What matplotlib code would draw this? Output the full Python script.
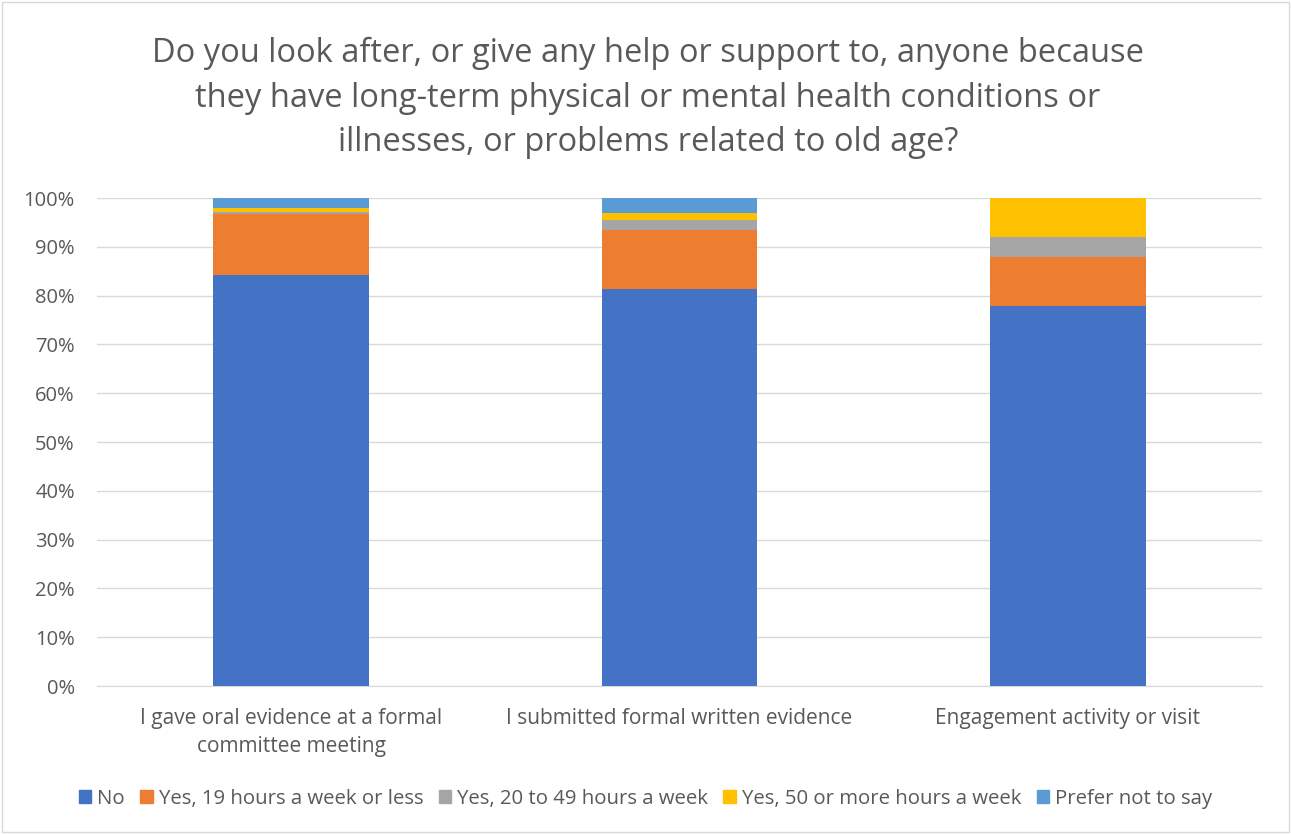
import matplotlib
matplotlib.use("Agg")
import matplotlib.pyplot as plt
import matplotlib.patches as mpatches
import numpy as np

plt.rcParams["font.family"] = ["Open Sans", "DejaVu Sans"]

# Data (percentages)
categories = [
    "I gave oral evidence at a formal\ncommittee meeting",
    "I submitted formal written evidence",
    "Engagement activity or visit",
]
series_names = [
    "No",
    "Yes, 19 hours a week or less",
    "Yes, 20 to 49 hours a week",
    "Yes, 50 or more hours a week",
    "Prefer not to say",
]
no_vals = [84.2, 81.4, 77.9]
yes_19 = [12.5, 12.0, 10.1]
yes_20_49 = [0.4, 2.1, 4.1]
yes_50 = [0.8, 1.4, 7.9]
prefer_not = [2.1, 3.1, 0.0]

colors = ["#4472C4", "#ED7D31", "#A5A5A5", "#FFC000", "#5B9BD5"]
TEXT = "#595959"

fig = plt.figure(figsize=(12.91, 8.34), dpi=100)
ax = fig.add_axes([97 / 1291, 1 - 686 / 834, (1262 - 97) / 1291, (686 - 198) / 834])

# chart border
fig.patches.append(mpatches.Rectangle(
    (2 / 1291, 2 / 834), 1287 / 1291, 830 / 834,
    transform=fig.transFigure, fill=False, edgecolor="#D9D9D9", linewidth=1.0,
))

x = np.arange(len(categories))
bottom = np.zeros(len(categories))
for name, vals, c in zip(series_names,
                         [no_vals, yes_19, yes_20_49, yes_50, prefer_not],
                         colors):
    ax.bar(x, vals, bottom=bottom, width=0.40, color=c, label=name, zorder=3)
    bottom += np.array(vals)

ax.set_xlim(-0.5, 2.5)
ax.set_ylim(0, 100)
ax.set_yticks(np.arange(0, 101, 10))
ax.set_yticklabels([f"{v}%" for v in range(0, 101, 10)])
ax.set_xticks(x)
ax.set_xticklabels(categories, linespacing=1.4)
ax.grid(axis="y", color="#D9D9D9", linewidth=1.0, zorder=0)
for s in ["left", "right", "top"]:
    ax.spines[s].set_visible(False)
ax.spines["bottom"].set_color("#D9D9D9")
ax.tick_params(axis="both", length=0, colors=TEXT)
ax.tick_params(axis="x", pad=16, labelsize=15)
ax.tick_params(axis="y", pad=16, labelsize=14.5)

fig.text(0.502, 1 - 98 / 834,
         "Do you look after, or give any help or support to, anyone because\n"
         "they have long-term physical or mental health conditions or\n"
         "illnesses, or problems related to old age?",
         ha="center", va="center", fontsize=23.5, color=TEXT, linespacing=1.47)

handles = [mpatches.Patch(color=c, label=n) for n, c in zip(series_names, colors)]
fig.legend(handles=handles, loc="center", bbox_to_anchor=(0.5, 1 - 799 / 834),
           ncol=5, frameon=False, fontsize=14.7, labelcolor=TEXT,
           handlelength=0.6, handleheight=0.6, handletextpad=0.3,
           columnspacing=0.75)

fig.savefig("out.png", dpi=100, facecolor="white")
